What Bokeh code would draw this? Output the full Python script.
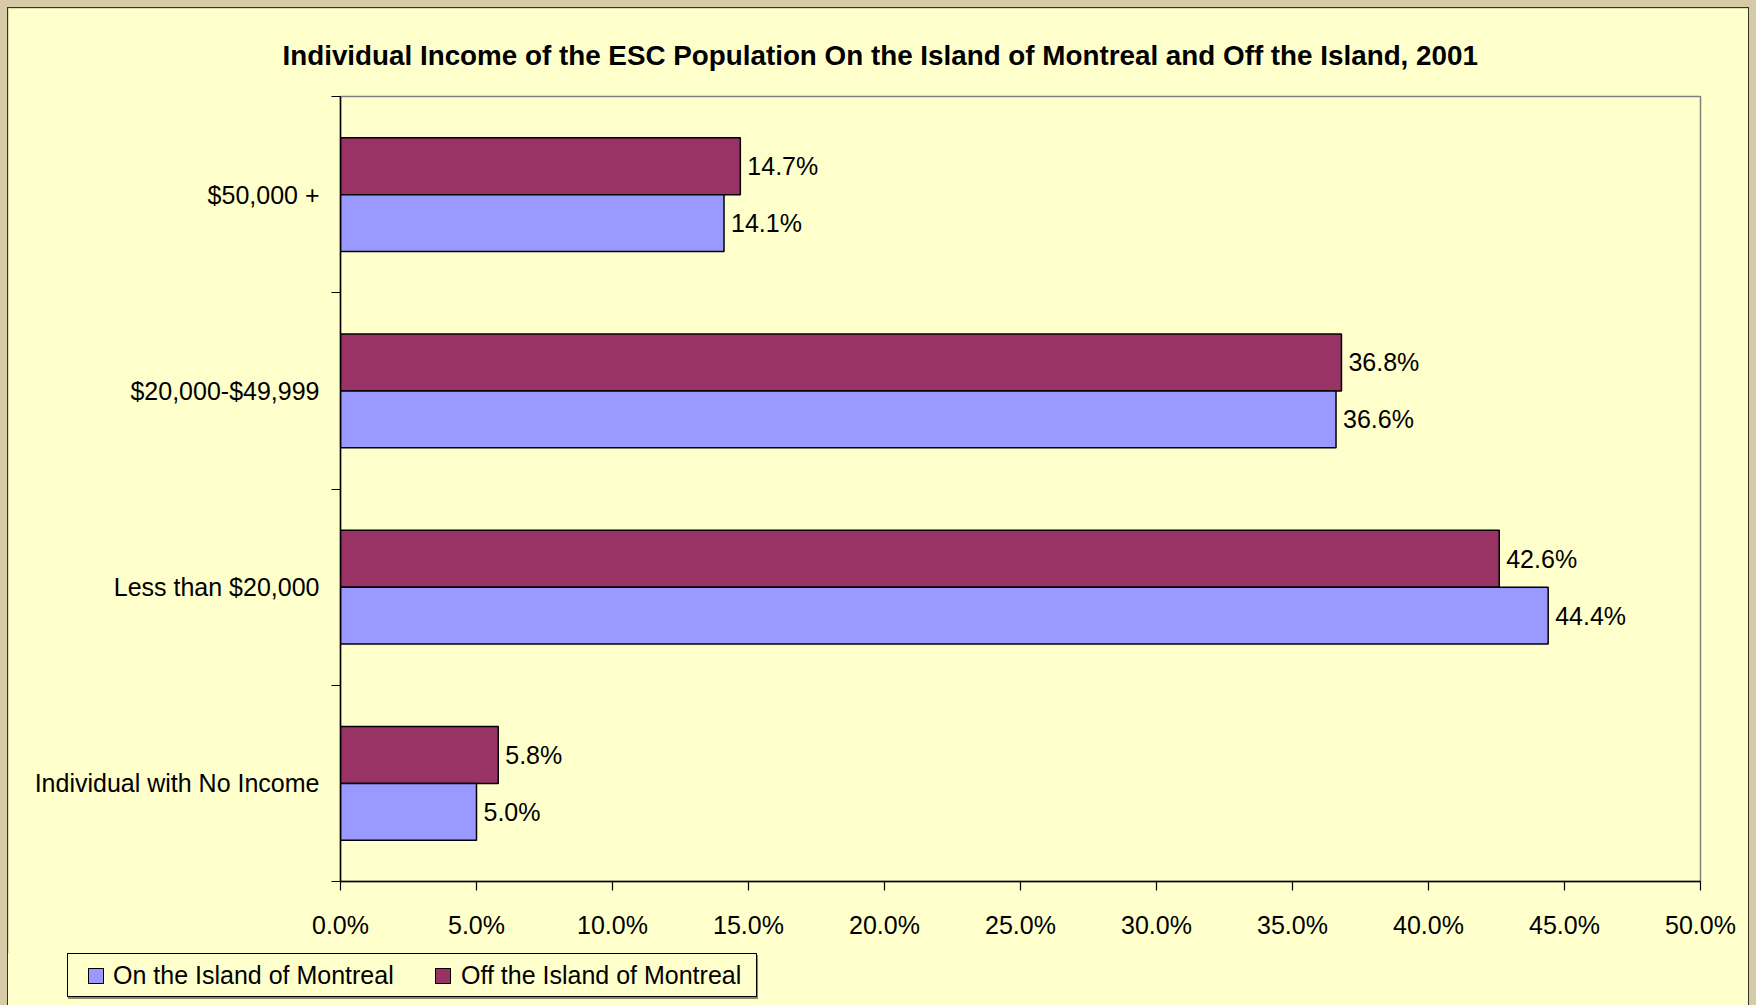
from bokeh.plotting import figure
from bokeh.layouts import column
from bokeh.models import (FixedTicker, ColumnDataSource, Range1d, Title,
                          PrintfTickFormatter, Div)
from bokeh.transform import dodge
from bokeh.embed import file_html
from bokeh.resources import INLINE
from bokeh.core.properties import value

# ---- data ----
categories = ["Individual with No Income", "Less than $20,000", "$20,000-$49,999", "$50,000 +"]
on_island = [5.0, 44.4, 36.6, 14.1]
off_island = [5.8, 42.6, 36.8, 14.7]
series_names = ["On the Island of Montreal", "Off the Island of Montreal"]
x_ticks = [0, 5, 10, 15, 20, 25, 30, 35, 40, 45, 50]
title_text = "Individual Income of the ESC Population On the Island of Montreal and Off the Island, 2001"

FONT = "Liberation Sans"
BG = "#FFFFCC"
BLUE = "#9999FF"
MAROON = "#993366"
series_colors = [BLUE, MAROON]

idx = list(range(len(categories)))
src = ColumnDataSource(dict(
    y=idx,
    on=on_island,
    off=off_island,
    on_lbl=[f"{v:.1f}%" for v in on_island],
    off_lbl=[f"{v:.1f}%" for v in off_island],
))

W = 1740
H_MAIN = 945
H_LEG = 52
p = figure(width=W, height=H_MAIN, x_range=Range1d(0, 50),
           y_range=Range1d(-0.5, len(categories) - 0.5),
           output_backend="svg", toolbar_location=None,
           min_border_left=332, min_border_right=48, min_border_top=88, min_border_bottom=72,
           background_fill_color=BG, border_fill_color=BG, margin=0)

p.title = Title(text=title_text, align="left", offset=-58, text_font_size="27.8px",
                text_font=FONT, text_font_style="bold", text_color="black", standoff=52)

bar_h = 0.29
p.hbar(y=dodge("y", bar_h / 2), left=0, right="off", height=bar_h, source=src,
       fill_color=MAROON, line_color="black", line_width=1.5)
p.hbar(y=dodge("y", -bar_h / 2), left=0, right="on", height=bar_h, source=src,
       fill_color=BLUE, line_color="black", line_width=1.5)

for col, lbl, off in (("off", "off_lbl", bar_h / 2), ("on", "on_lbl", -bar_h / 2)):
    p.text(x=col, y=dodge("y", off), text=lbl, source=src, x_offset=7,
           text_baseline="middle", text_align="left",
           text_font=value(FONT), text_font_size="25px", text_color="black")

p.xgrid.visible = False
p.ygrid.visible = False
p.outline_line_color = "#808080"
p.outline_line_width = 1.5

# x axis
xa = p.xaxis[0]
xa.ticker = FixedTicker(ticks=x_ticks)
xa.formatter = PrintfTickFormatter(format="%.1f%%")
xa.major_tick_out = 9
xa.major_tick_in = 0
xa.minor_tick_line_color = None
xa.axis_line_color = "black"
xa.axis_line_width = 1.5
xa.major_tick_line_color = "black"
xa.major_tick_line_width = 1.2
xa.major_label_text_font = FONT
xa.major_label_text_font_size = "25px"
xa.major_label_text_color = "black"
xa.major_label_standoff = 20

# y axis
ya = p.yaxis[0]
ya.ticker = FixedTicker(ticks=idx, minor_ticks=[i - 0.5 for i in idx] + [idx[-1] + 0.5])
ya.major_label_overrides = {i: c for i, c in zip(idx, categories)}
ya.major_tick_line_color = None
ya.major_tick_out = 0
ya.major_tick_in = 0
ya.minor_tick_out = 9
ya.minor_tick_in = 0
ya.minor_tick_line_color = "black"
ya.minor_tick_line_width = 1.2
ya.axis_line_color = "black"
ya.axis_line_width = 1.5
ya.major_label_text_font = FONT
ya.major_label_text_font_size = "25px"
ya.major_label_text_color = "black"
ya.major_label_standoff = 12

# ---- legend strip below the chart (HTML text) ----
sq_left = [20, 367]
txt_left = [45, 393]
items_html = ""
for name, colr, sl, tl in zip(series_names, series_colors, sq_left, txt_left):
    items_html += (
        f'<div style="position:absolute;left:{sl}px;top:14px;width:16px;height:16px;'
        f'box-sizing:border-box;background:{colr};border:1.5px solid #000;"></div>'
        f'<div style="position:absolute;left:{tl}px;top:0;height:42px;line-height:42px;'
        f'font-family:\'{FONT}\';font-size:25px;color:#000;white-space:nowrap;">{name}</div>'
    )
legend_html = (
    f'<div style="position:relative;width:{W}px;height:{H_LEG}px;">'
    f'<div style="position:absolute;left:59px;top:0;width:690px;height:44px;box-sizing:border-box;'
    f'border:1px solid #000;background:{BG};box-shadow:1px 2px 0 #8a8a6a;">{items_html}</div></div>'
)
leg = Div(text=legend_html, width=W, height=H_LEG, margin=0,
          styles={"background-color": BG, "margin": "0", "padding": "0"})

layout = column(p, leg, spacing=0, margin=0, styles={"outline": "1px solid #333"})

html = file_html(layout, INLINE)
html = html.replace(
    "</head>",
    "<style>html{background:#D6CBA6 !important;}"
    "body{padding:8px !important;background:#D6CBA6 !important;}</style></head>")
open("out.html", "w").write(html)
